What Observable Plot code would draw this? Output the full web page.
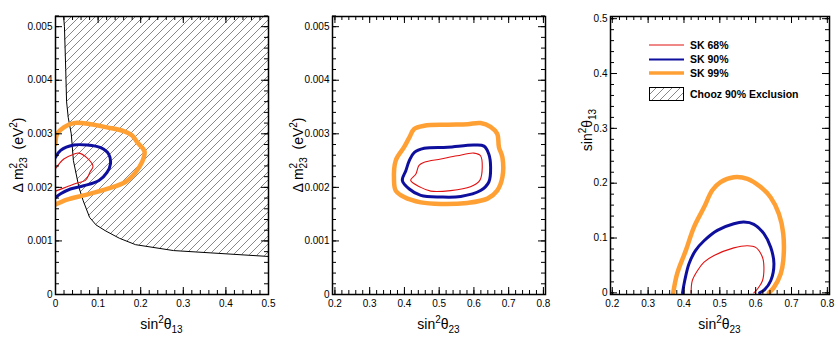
<!DOCTYPE html>
<html><head><meta charset="utf-8">
<script src="https://cdn.jsdelivr.net/npm/d3@7"></script>
<script src="https://cdn.jsdelivr.net/npm/@observablehq/plot@0.6"></script>
<style>
body{margin:0;background:#fff;}
#wrap{position:relative;width:838px;height:346px;overflow:hidden;font-family:"Liberation Sans",Arial,sans-serif;background:#fff;}
.panel{position:absolute;top:0;}
#overlay{position:absolute;left:0;top:0;pointer-events:none;}
</style></head><body>
<svg width="0" height="0" style="position:absolute"><defs>
<pattern id="hatch" patternUnits="userSpaceOnUse" width="8" height="8"><path d="M-2,2L2,-2M0,8L8,0M6,10L10,6" stroke="#555" stroke-width="0.7"/></pattern>
</defs></svg>
<div id="wrap"></div>
<script>
// ---------- data ----------
// Panel 1: sin^2 theta13 vs dm2_23
const chooz90 = [[0.019,0.00519],[0.021,0.0050],[0.024,0.0042],[0.026,0.0036],[0.030,0.0033],[0.037,0.0030],[0.042,0.0025],[0.055,0.0020],[0.065,0.00175],[0.080,0.00144],[0.095,0.0013],[0.117,0.00119],[0.15,0.00105],[0.188,0.00093],[0.277,0.00082],[0.5,0.00071]];
const p1_99 = [[0,0.00281],[0.004,0.0030],[0.0195,0.00312],[0.043,0.0032],[0.082,0.00318],[0.121,0.00312],[0.160,0.00305],[0.180,0.00297],[0.192,0.00284],[0.209,0.00267],[0.203,0.00247],[0.188,0.00228],[0.164,0.0021],[0.121,0.00197],[0.066,0.00185],[0.027,0.00177],[0,0.00168]];
const p1_90 = [[0,0.00256],[0.012,0.00269],[0.043,0.00279],[0.074,0.00279],[0.106,0.00274],[0.125,0.00262],[0.129,0.00244],[0.121,0.00228],[0.102,0.00213],[0.066,0.00203],[0.035,0.00197],[0.012,0.00188],[0,0.00181]];
const p1_68 = [[0,0.00235],[0.0195,0.00253],[0.043,0.00262],[0.055,0.00264],[0.074,0.00255],[0.088,0.00239],[0.082,0.0023],[0.070,0.00213],[0.051,0.00208],[0.027,0.00201],[0,0.00193]];
// Panel 2: sin^2 theta23 vs dm2_23 (closed contours)
const p2_99 = [[0.370,0.00213],[0.375,0.0025],[0.399,0.00275],[0.414,0.00293],[0.428,0.00309],[0.457,0.00315],[0.524,0.00317],[0.581,0.00318],[0.619,0.0032],[0.648,0.00313],[0.667,0.003],[0.672,0.00275],[0.682,0.00256],[0.682,0.00219],[0.667,0.00194],[0.639,0.00179],[0.581,0.00171],[0.505,0.00169],[0.447,0.00172],[0.399,0.00182],[0.375,0.00194]];
const p2_90 = [[0.394,0.00213],[0.404,0.00231],[0.414,0.0025],[0.428,0.00265],[0.457,0.00273],[0.524,0.00275],[0.600,0.00279],[0.629,0.00277],[0.643,0.00262],[0.648,0.00238],[0.643,0.0021],[0.619,0.00194],[0.562,0.00183],[0.505,0.00182],[0.447,0.00185],[0.414,0.00197]];
const p2_68 = [[0.418,0.00213],[0.433,0.00225],[0.442,0.00241],[0.457,0.00247],[0.505,0.00253],[0.552,0.00259],[0.600,0.00264],[0.619,0.00259],[0.624,0.00238],[0.617,0.00213],[0.590,0.00201],[0.533,0.00194],[0.476,0.00193],[0.447,0.002]];
// Panel 3: sin^2 theta23 vs sin^2 theta13
const p3_99 = [[0.370,0],[0.381,0.035],[0.405,0.077],[0.428,0.12],[0.456,0.156],[0.479,0.187],[0.502,0.202],[0.539,0.211],[0.577,0.208],[0.614,0.193],[0.642,0.174],[0.665,0.144],[0.677,0.108],[0.677,0.059],[0.670,0.035],[0.651,0.010],[0.637,0]];
const p3_90 = [[0.396,0],[0.402,0.022],[0.414,0.053],[0.432,0.077],[0.456,0.095],[0.493,0.114],[0.539,0.126],[0.567,0.129],[0.595,0.125],[0.623,0.108],[0.642,0.083],[0.651,0.053],[0.642,0.022],[0.625,0.006],[0.611,0]];
const p3_68 = [[0.420,0],[0.423,0.022],[0.437,0.04],[0.456,0.056],[0.484,0.068],[0.539,0.082],[0.577,0.086],[0.600,0.083],[0.619,0.065],[0.623,0.047],[0.619,0.022],[0.605,0.007],[0.595,0]];

// tick values
const dmMajor = [0, 0.001, 0.002, 0.003, 0.004, 0.005];
const dmMinor = d3.range(0, 0.00521, 0.0002);
const t13Major = [0, 0.1, 0.2, 0.3, 0.4, 0.5];
const t13Minor = d3.range(0, 0.5001, 0.02);
const t23Major = [0.2, 0.3, 0.4, 0.5, 0.6, 0.7, 0.8];
const t23Minor = d3.range(0.2, 0.8001, 0.02);
const s13Major = [0, 0.1, 0.2, 0.3, 0.4, 0.5];
const s13Minor = d3.range(0, 0.5001, 0.02);

const C68 = "#e01010", C90 = "#0f0f9e", C99 = "#ffa035";
const W68 = 1.1, W90 = 3, W99 = 4.5;

// ---------- helpers ----------
const H = 346, MT = 16, MB = 52;
const FH = H - MT - MB;
function rootAxes(fw, xMaj, xMin, yMaj, yMin, xFmt, yFmt) {
  const maj = 7, mn = 4;
  return [
    Plot.tickX(xMaj, {x: d => d, insetTop: FH - maj, stroke: "black"}),
    Plot.tickX(xMin, {x: d => d, insetTop: FH - mn, stroke: "black"}),
    Plot.tickX(xMaj, {x: d => d, insetBottom: FH - maj, stroke: "black"}),
    Plot.tickX(xMin, {x: d => d, insetBottom: FH - mn, stroke: "black"}),
    Plot.tickY(yMaj, {y: d => d, insetRight: fw - maj, stroke: "black"}),
    Plot.tickY(yMin, {y: d => d, insetRight: fw - mn, stroke: "black"}),
    Plot.tickY(yMaj, {y: d => d, insetLeft: fw - maj, stroke: "black"}),
    Plot.tickY(yMin, {y: d => d, insetLeft: fw - mn, stroke: "black"}),
    Plot.axisX({anchor: "bottom", ticks: xMaj, tickSize: 0, tickPadding: 5, tickFormat: xFmt, label: null, fontSize: 10}),
    Plot.axisY({anchor: "left", ticks: yMaj, tickSize: 0, tickPadding: 3, tickFormat: yFmt, label: null, fontSize: 10}),
    Plot.frame({stroke: "black", strokeWidth: 1.5})
  ];
}
const fmtDm = d => d === 0 ? "0" : d.toFixed(3);
const fmt1 = d => d === 0 ? "0" : d.toFixed(1);
const lineOpts = (c, w) => ({x: d => d[0], y: d => d[1], stroke: c, strokeWidth: w, curve: "catmull-rom", clip: true, strokeLinejoin: "round"});
const closedOpts = (c, w) => ({...lineOpts(c, w), curve: "catmull-rom-closed"});
const style = {fontFamily: "'Liberation Sans', Arial, sans-serif", fontSize: "10px", background: "white", color: "black", overflow: "visible"};

const wrap = document.getElementById("wrap");
function place(svg, left) { svg.classList.add("panel"); svg.style.left = left + "px"; wrap.appendChild(svg); }

// Panel 1
const fw1 = 279 - 55 - 11;
place(Plot.plot({
  width: 279, height: H, marginLeft: 55, marginRight: 11, marginTop: MT, marginBottom: MB, style,
  x: {domain: [0, 0.5], axis: null}, y: {domain: [0, 0.00519], axis: null},
  marks: [
    Plot.areaX(chooz90, {y: d => d[1], x1: d => d[0], x2: 0.5, fill: "url(#hatch)", clip: true}),
    Plot.line(chooz90, {x: d => d[0], y: d => d[1], stroke: "black", strokeWidth: 1, clip: true}),
    Plot.line(p1_99, lineOpts(C99, W99)),
    Plot.line(p1_90, lineOpts(C90, W90)),
    Plot.line(p1_68, lineOpts(C68, W68)),
    ...rootAxes(fw1, t13Major, t13Minor, dmMajor, dmMinor, fmt1, fmtDm)
  ]
}), 0);

// Panel 2
const fw2 = 279 - 53 - 13;
place(Plot.plot({
  width: 279, height: H, marginLeft: 53, marginRight: 13, marginTop: MT, marginBottom: MB, style,
  x: {domain: [0.193, 0.806], axis: null}, y: {domain: [0, 0.00519], axis: null},
  marks: [
    Plot.line(p2_99, closedOpts(C99, W99)),
    Plot.line(p2_90, closedOpts(C90, W90)),
    Plot.line(p2_68, closedOpts(C68, W68)),
    ...rootAxes(fw2, t23Major, t23Minor, dmMajor, dmMinor, fmt1, fmtDm)
  ]
}), 279);

// Panel 3
const fw3 = 280 - 52 - 9;
place(Plot.plot({
  width: 280, height: H, marginLeft: 52, marginRight: 9, marginTop: MT, marginBottom: MB, style,
  x: {domain: [0.195, 0.806], axis: null}, y: {domain: [-0.003, 0.504], axis: null},
  marks: [
    Plot.line(p3_99, lineOpts(C99, W99)),
    Plot.line(p3_90, lineOpts(C90, W90)),
    Plot.line(p3_68, lineOpts(C68, W68)),
    ...rootAxes(fw3, t23Major, t23Minor, s13Major, s13Minor, fmt1, fmt1)
  ]
}), 558);

// ---------- titles and legend overlay ----------
const ytitleDm = (x, y) => `<text transform="translate(${x},${y}) rotate(-90)" text-anchor="middle" font-size="14" style="white-space:pre">Δ m<tspan font-size="10" dy="-6">2</tspan><tspan font-size="10" dx="-5.6" dy="10">23</tspan><tspan dy="-4">  (eV</tspan><tspan font-size="10" dy="-6">2</tspan><tspan dy="6">)</tspan></text>`;
const sinTitle = (sub) => `sin<tspan font-size="10" dy="-6">2</tspan><tspan dy="6">θ</tspan><tspan font-size="10" dy="4">${sub}</tspan>`;
const legendItems = [
  {label: "SK 68%", color: C68, w: 1},
  {label: "SK 90%", color: C90, w: 2.2},
  {label: "SK 99%", color: C99, w: 3.5}
];
const legendY = [45, 59.5, 73];
let leg = legendItems.map((d, i) =>
  `<line x1="649" x2="684" y1="${legendY[i]}" y2="${legendY[i]}" stroke="${d.color}" stroke-width="${d.w}"/>` +
  `<text x="690" y="${legendY[i]}" dy="0.35em" font-size="10.5" font-weight="bold">${d.label}</text>`).join("");
leg += `<rect x="649.5" y="87.5" width="34" height="13" fill="url(#hatch)" stroke="black" stroke-width="1"/>` +
  `<text x="690" y="94" dy="0.35em" font-size="10.5" font-weight="bold">Chooz 90% Exclusion</text>`;
const ov = document.createElementNS("http://www.w3.org/2000/svg", "svg");
ov.setAttribute("id", "overlay"); ov.setAttribute("width", 838); ov.setAttribute("height", 346);
ov.setAttribute("font-family", "'Liberation Sans', Arial, sans-serif");
ov.innerHTML =
  ytitleDm(23, 155) + ytitleDm(303, 155) +
  `<text transform="translate(592,130) rotate(-90)" text-anchor="middle" font-size="14">${sinTitle("13")}</text>` +
  `<text x="161.5" y="329" text-anchor="middle" font-size="14">${sinTitle("13")}</text>` +
  `<text x="438.5" y="329" text-anchor="middle" font-size="14">${sinTitle("23")}</text>` +
  `<text x="719.5" y="329" text-anchor="middle" font-size="14">${sinTitle("23")}</text>` +
  leg;
wrap.appendChild(ov);
</script>
</body></html>
